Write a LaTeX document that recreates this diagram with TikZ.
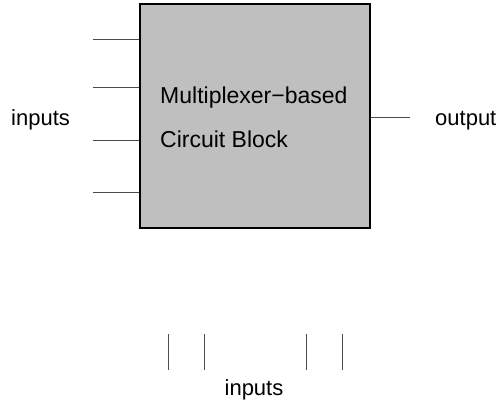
\documentclass[tikz,border=0pt]{standalone}
\usepackage{fontspec}
\setmainfont{Liberation Sans}
\begin{document}
\begin{tikzpicture}[x=1pt,y=-1pt,
  wire/.style={draw=black!70, line width=1pt},
  lbl/.style={font=\fontsize{22}{26}\selectfont, inner sep=0pt, anchor=base west},
  blklbl/.style={font=\fontsize{23}{27}\selectfont, inner sep=0pt, anchor=base west},
  blk/.style={draw=black, line width=1.8pt, fill=black!25, minimum width=230pt, minimum height=224pt, inner sep=0pt}]
\useasboundingbox (0,0) rectangle (501,402);
\node[blk] (box) at (255,116) {};
\node[blklbl] (t1) at (160,103) {Multiplexer\char"2212 based};
\node[blklbl] (t2) at (160,147) {Circuit Block};
\foreach \i/\y in {1/39,2/87,3/140,4/192}{
  \coordinate (in\i) at (93,\y);
  \draw[wire] (in\i) -- (box.west |- in\i);
}
\coordinate (out) at (410,117);
\draw[wire] (box.east |- out) -- (out);
\node[lbl] (inl) at (11,125) {inputs};
\node[lbl] (outl) at (435,125) {output};
\foreach \i/\x in {1/168,2/204,3/306,4/342}{
  \coordinate (b\i t) at (\x,334);
  \coordinate (b\i b) at (\x,370);
  \draw[wire] (b\i t) -- (b\i b);
}
\node[lbl, anchor=base] (inb) at (254,395) {inputs};
\end{tikzpicture}
\end{document}
